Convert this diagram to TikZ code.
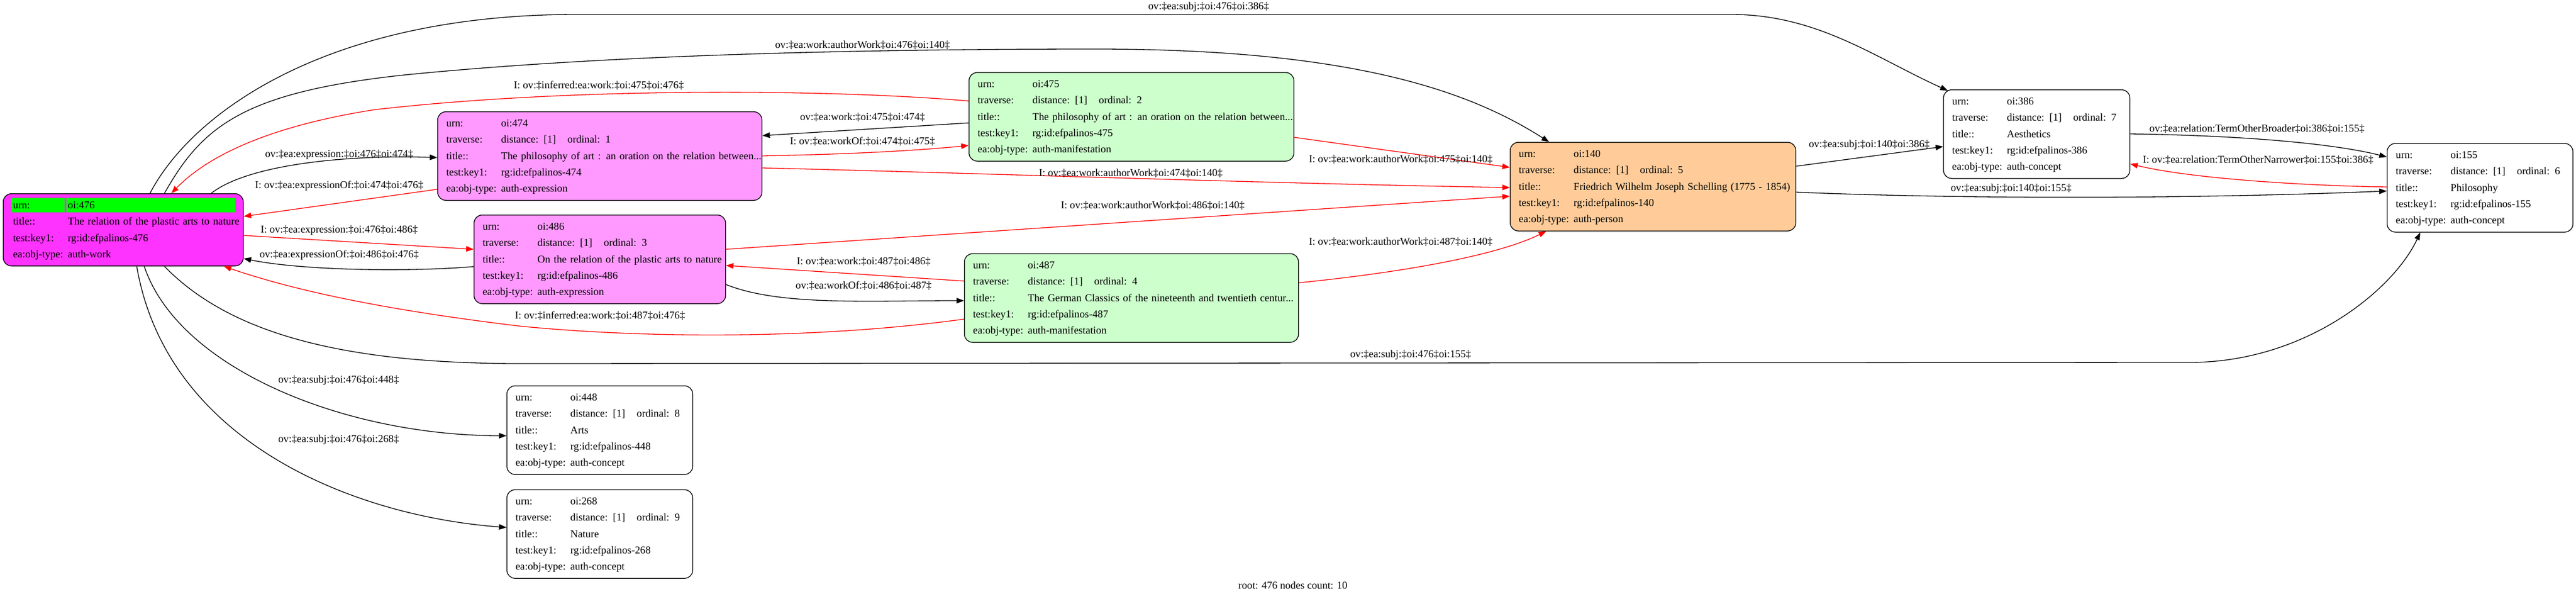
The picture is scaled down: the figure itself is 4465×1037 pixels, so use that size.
\documentclass[tikz,border=0pt]{standalone}
\usepackage{fontspec}
\setmainfont{Liberation Serif}
\usetikzlibrary{arrows.meta}
\definecolor{workmag}{RGB}{255,51,255}
\definecolor{exprpink}{RGB}{255,153,255}
\definecolor{manigreen}{RGB}{204,255,204}
\definecolor{persorange}{RGB}{255,204,153}
\definecolor{urngreen}{RGB}{0,255,0}
\setlength{\fboxsep}{0pt}
\newcommand{\recfont}{\fontsize{18.2bp}{28.3bp}\selectfont}
\newcommand{\greencell}[2]{\colorbox{urngreen}{\makebox[#1][l]{\hspace*{3bp}#2\rule[-7bp]{0pt}{25bp}}}}
\newcommand{\recbody}[4]{%
  \begin{tabular}{@{}p{95bp}@{}p{115bp}@{}l@{}}
  urn: & \multicolumn{2}{@{}l@{}}{oi:#1}\\
  traverse: & distance: [1] & ordinal: #2\\
  title:: & \multicolumn{2}{@{}l@{}}{#3}\\
  test:key1: & \multicolumn{2}{@{}l@{}}{rg:id:efpalinos-#1}\\
  ea:obj-type: & \multicolumn{2}{@{}l@{}}{#4}
  \end{tabular}}
\tikzstyle{record}=[draw, rounded corners=14bp, line width=1.3bp, inner xsep=15bp, inner ysep=6bp, anchor=north west, align=left, font=\recfont]
\tikzstyle{edgelbl}=[inner sep=0pt, font=\recfont]
\tikzstyle{link}=[-{Triangle[length=13bp,width=9.5bp]}, line width=1.3bp]
\tikzstyle{inv}=[link, red]

\begin{document}
\begin{tikzpicture}[x=1bp,y=-1bp]
  \useasboundingbox (0,0) rectangle (4465,1037);

  \node[record, fill=workmag, inner xsep=14bp, text width=388bp] (R-476) at (5,335) {%
    \begin{tabular}{@{}p{95bp}@{}l@{}}
    \greencell{92bp}{urn:} & \greencell{293bp}{oi:476}\\
    \hspace*{3bp}title:: & \hspace*{3bp}The relation of the plastic arts to nature\\
    \hspace*{3bp}test:key1: & \hspace*{3bp}rg:id:efpalinos-476\\
    \hspace*{3bp}ea:obj-type: & \hspace*{3bp}auth-work
    \end{tabular}};

  \foreach \name/\clr/\x/\y/\tw/\ord/\ttl/\typ in {
    474/exprpink/758/193/532/1/{The philosophy of art : an oration on the relation between...}/auth-expression,
    475/manigreen/1679/125/533/2/{The philosophy of art : an oration on the relation between...}/auth-manifestation,
    486/exprpink/821/372/406/3/{On the relation of the plastic arts to nature}/auth-expression,
    487/manigreen/1671/439/549/4/{The German Classics of the nineteenth and twentieth centur...}/auth-manifestation,
    140/persorange/2617/246/465/5/{Friedrich Wilhelm Joseph Schelling (1775 - 1854)}/auth-person,
    155/white/4137/248/292/6/Philosophy/auth-concept,
    386/white/3368/155/293/7/Aesthetics/auth-concept,
    448/white/878/668/292/8/Arts/auth-concept,
    268/white/878/848/292/9/Nature/auth-concept}
    \node[record, fill=\clr, text width=\tw bp] (R-\name) at (\x,\y) {\recbody{\name}{\ord}{\ttl}{\typ}};

  \draw[link] ([shift={(255,0)}]R-476.north west) .. controls (330,200) and (560,25) .. (1000,25) -- (3000,25) .. controls (3150,25) and (3250,100) .. ([shift={(8,2)}]R-386.north west);
  \draw[link] ([shift={(280,0)}]R-476.north west) .. controls (350,220) and (420,160) .. (700,130) .. controls (1000,100) and (1400,85) .. (1900,85) .. controls (2350,85) and (2550,160) .. ([shift={(68,0)}]R-140.north west);
  \draw[inv] ([shift={(0,50)}]R-475.north west) .. controls (1450,155) and (1000,150) .. (650,190) .. controls (520,210) and (380,250) .. ([shift={(292,0)}]R-476.north west);
  \draw[link] ([shift={(361,0)}]R-476.north west) .. controls (430,285) and (600,268) .. ([shift={(0,80)}]R-474.north west);
  \draw[inv] ([shift={(0,135)}]R-474.north west) -- ([shift={(0,40)}]R-476.north east);
  \draw[inv] ([shift={(0,73)}]R-476.north east) -- ([shift={(0,60)}]R-486.north west);
  \draw[link] ([shift={(0,90)}]R-486.north west) .. controls (700,472) and (520,468) .. ([shift={(0,113)}]R-476.north east);
  \draw[link] ([shift={(0,88)}]R-475.north west) -- ([shift={(0,42)}]R-474.north east);
  \draw[inv] ([shift={(0,77)}]R-474.north east) .. controls (1450,268) and (1580,262) .. ([shift={(0,127)}]R-475.north west);
  \draw[inv] ([shift={(0,98)}]R-474.north east) .. controls (1700,300) and (2200,318) .. ([shift={(0,79)}]R-140.north west);
  \draw[inv] ([shift={(0,113)}]R-475.north east) -- ([shift={(0,44)}]R-140.north west);
  \draw[inv] ([shift={(0,60)}]R-486.north east) -- ([shift={(0,94)}]R-140.north west);
  \draw[inv] ([shift={(0,51)}]R-487.north east) .. controls (2450,470) and (2600,440) .. ([shift={(63,0)}]R-140.south west);
  \draw[inv] ([shift={(0,48)}]R-487.north west) -- ([shift={(0,88)}]R-486.north east);
  \draw[link] ([shift={(0,121)}]R-486.north east) .. controls (1350,530) and (1500,521) .. ([shift={(0,82)}]R-487.north west);
  \draw[inv] ([shift={(0,114)}]R-487.north west) .. controls (1400,590) and (1100,585) .. (900,565) .. controls (650,535) and (500,500) .. ([shift={(383,0)}]R-476.south west);
  \draw[link] ([shift={(280,0)}]R-476.south west) .. controls (400,580) and (600,630) .. (900,630) -- (3800,628) .. controls (4000,626) and (4150,500) .. ([shift={(58,0)}]R-155.south west);
  \draw[link] ([shift={(245,0)}]R-476.south west) .. controls (310,640) and (600,755) .. ([shift={(0,87)}]R-448.north west);
  \draw[link] ([shift={(232,0)}]R-476.south west) .. controls (290,770) and (620,895) .. ([shift={(0,66)}]R-268.north west);
  \draw[link] ([shift={(0,42)}]R-140.north east) -- ([shift={(0,99)}]R-386.north west);
  \draw[link] ([shift={(0,87)}]R-140.north east) .. controls (3400,345) and (3800,345) .. ([shift={(0,83)}]R-155.north west);
  \draw[link] ([shift={(0,77)}]R-386.north east) .. controls (3900,235) and (4050,250) .. ([shift={(0,24)}]R-155.north west);
  \draw[inv] ([shift={(0,76)}]R-155.north west) .. controls (4000,322) and (3800,310) .. ([shift={(0,129)}]R-386.north east);

  \foreach \i/\x/\y/\txt in {
    1/2095/12/{ov:‡ea:subj:‡oi:476‡oi:386‡},
    2/1495/78/{ov:‡ea:work:authorWork‡oi:476‡oi:140‡},
    3/1038/148/{I: ov:‡inferred:ea:work:‡oi:475‡oi:476‡},
    4/1495/203/{ov:‡ea:work:‡oi:475‡oi:474‡},
    5/1495/245/{I: ov:‡ea:workOf:‡oi:474‡oi:475‡},
    6/588/268/{ov:‡ea:expression:‡oi:476‡oi:474‡},
    7/2428/276/{I: ov:‡ea:work:authorWork‡oi:475‡oi:140‡},
    8/1960/300/{I: ov:‡ea:work:authorWork‡oi:474‡oi:140‡},
    9/588/322/{I: ov:‡ea:expressionOf:‡oi:474‡oi:476‡},
    10/1998/356/{I: ov:‡ea:work:authorWork‡oi:486‡oi:140‡},
    11/588/399/{I: ov:‡ea:expression:‡oi:476‡oi:486‡},
    12/2428/419/{I: ov:‡ea:work:authorWork‡oi:487‡oi:140‡},
    13/588/442/{ov:‡ea:expressionOf:‡oi:486‡oi:476‡},
    14/1497/453/{I: ov:‡ea:work:‡oi:487‡oi:486‡},
    15/1497/495/{ov:‡ea:workOf:‡oi:486‡oi:487‡},
    16/1040/547/{I: ov:‡inferred:ea:work:‡oi:487‡oi:476‡},
    17/2445/615/{ov:‡ea:subj:‡oi:476‡oi:155‡},
    18/587/659/{ov:‡ea:subj:‡oi:476‡oi:448‡},
    19/587/762/{ov:‡ea:subj:‡oi:476‡oi:268‡},
    20/3240/251/{ov:‡ea:subj:‡oi:140‡oi:386‡},
    21/3486/327/{ov:‡ea:subj:‡oi:140‡oi:155‡},
    22/3912/223/{ov:‡ea:relation:TermOtherBroader‡oi:386‡oi:155‡},
    23/3914/277/{I: ov:‡ea:relation:TermOtherNarrower‡oi:155‡oi:386‡}}
    \node[edgelbl] (L-\i) at (\x,\y) {\txt};

  \node[edgelbl] (root) at (2241,1014) {root: 476 nodes count: 10};
\end{tikzpicture}
\end{document}
